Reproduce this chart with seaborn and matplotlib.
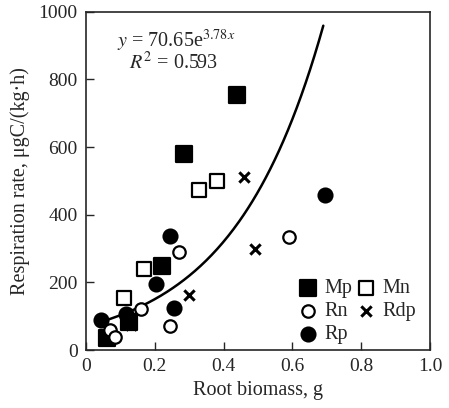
import numpy as np
import pandas as pd
import matplotlib
matplotlib.use("Agg")
import matplotlib.pyplot as plt
import seaborn as sns

# data
mp_x = [0.44, 0.285, 0.22, 0.06, 0.125]
mp_y = [755, 580, 250, 35, 82]
mn_x = [0.38, 0.33, 0.17, 0.11]
mn_y = [500, 472, 240, 155]
rn_x = [0.59, 0.27, 0.16, 0.245, 0.07, 0.085]
rn_y = [335, 290, 120, 72, 58, 40]
rdp_x = [0.46, 0.49, 0.30, 0.13]
rdp_y = [512, 300, 162, 75]
rp_x = [0.695, 0.245, 0.205, 0.255, 0.045, 0.115]
rp_y = [458, 338, 195, 125, 88, 108]

fit_a, fit_b = 70.65, 3.78
fit_xmin, fit_xmax = 0.05, 0.69

sns.set_style("ticks")
plt.rcParams['font.family'] = ['Liberation Serif', 'DejaVu Serif']
plt.rcParams['mathtext.fontset'] = 'stix'

fig = plt.figure(figsize=(4.49, 4.08), dpi=100)
ax = fig.add_axes([0.1915, 0.142, 0.766, 0.829])

fx = np.linspace(fit_xmin, fit_xmax, 200)
sns.lineplot(x=fx, y=fit_a * np.exp(fit_b * fx), color='black', lw=1.8, ax=ax)

groups = [
    ("Mp", mp_x, mp_y, 's', 'black', 120),
    ("Rn", rn_x, rn_y, 'o', 'white', 80),
    ("Rp", rp_x, rp_y, 'o', 'black', 100),
    ("Mn", mn_x, mn_y, 's', 'white', 100),
    ("Rdp", rdp_x, rdp_y, 'x', 'black', 55),
]
for name, xs, ys, m, fc, s in groups:
    df = pd.DataFrame({"x": xs, "y": ys})
    if m == 'x':
        sns.scatterplot(data=df, x="x", y="y", marker=m, s=s, color='black',
                        linewidth=2.2, label=name, ax=ax, zorder=3)
    else:
        sns.scatterplot(data=df, x="x", y="y", marker=m, s=s, facecolor=fc,
                        edgecolor='black', linewidth=1.6, label=name, ax=ax, zorder=3)

ax.set_xlim(0, 1.0)
ax.set_ylim(0, 1000)
ax.set_xticks([0, 0.2, 0.4, 0.6, 0.8, 1.0])
ax.set_xticklabels(["0", "0.2", "0.4", "0.6", "0.8", "1.0"])
ax.set_yticks([0, 200, 400, 600, 800, 1000])
ax.tick_params(direction='in', length=6, width=1, labelsize=14, pad=6)
for sp in ax.spines.values():
    sp.set_linewidth(1.2)
ax.set_xlabel("Root biomass, g", fontsize=14.5, labelpad=4)
ax.set_ylabel("Respiration rate, μgC/(kg·h)", fontsize=14.5, labelpad=6)

ax.text(0.09, 915, r"$y$ = 70.65e$^{3.78x}$", fontsize=14.5, va='center')
ax.text(0.125, 848, r"$R^2$ = 0.593", fontsize=14.5, va='center')

ax.legend(ncol=2, loc='lower right', bbox_to_anchor=(1.0, -0.025), frameon=False,
          fontsize=14.5, handletextpad=0.2, columnspacing=0.1, labelspacing=0.2,
          borderaxespad=0.3, handlelength=1.2)

fig.savefig("out.png", dpi=100)
